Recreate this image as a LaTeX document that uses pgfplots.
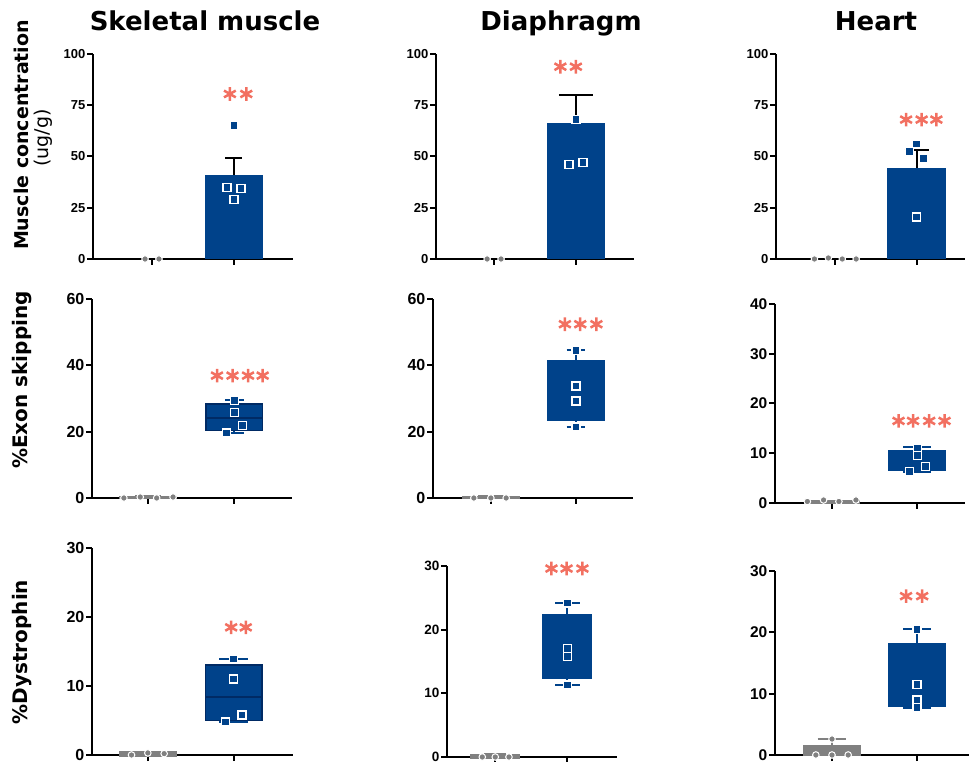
\documentclass[border=0pt]{standalone}
\usepackage{fontspec}
\setmainfont{DejaVu Sans}
\newfontfamily\tickfont{Liberation Sans}
\usepackage{pgfplots}
\pgfplotsset{compat=1.18}
\usepgfplotslibrary{statistics}
\definecolor{mblue}{RGB}{0,66,138}
\definecolor{dblue}{RGB}{0,42,100}
\definecolor{starc}{RGB}{242,112,97}
\definecolor{mgrey}{RGB}{128,128,128}
\newcommand\tf[1]{\tickfont\bfseries\fontsize{#1}{#1}\selectfont}
\pgfplotsset{
 panel/.style={scale only axis, clip=false, anchor=south west,
   axis x line*=bottom, axis y line*=left,
   axis line style={-, line width=2pt, black}, ymin=0,
   xtick={0,1}, xticklabels={,,}, tick align=outside, major tick length=6pt,
   tick style={line width=2pt, black},
   boxplot/draw direction=y,
   /pgf/number format/assume math mode=true,
   yticklabel style={inner sep=1.5pt}},
 bluepts/.style={only marks, mark=square*, mark size=4pt, mark options={fill=mblue, draw=white, line width=1.4pt}},
 greypts/.style={only marks, mark=*, mark size=3.3pt, mark options={fill=mgrey, draw=white, line width=1pt}},
 stars/.style={only marks, mark=asterisk, mark size=6.8pt, mark options={draw=starc, line width=2.5pt}},
 errb/.style={draw=none, mark=none, error bars/.cd, y dir=plus, y explicit,
   error mark=|,
   error bar style={draw=black, line width=2pt},
   error mark options={draw=black, line width=2pt, mark size=#1}},
 greybox/.style={boxplot prepared={lower whisker=0, lower quartile=0, median=0.15, upper quartile=0.3, upper whisker=0.4,
  draw position=0, box extend=#1, whisker extend=0.3,
  every box/.style={fill=mgrey, draw=mgrey, line width=3pt},
  every median/.style={draw=mgrey, line width=3pt},
  every whisker/.style={draw=mgrey, line width=3pt}}},
}
\begin{document}
\begin{tikzpicture}
\useasboundingbox (0pt,0pt) rectangle (969pt,761pt);
% titles
\node[anchor=base, font=\bfseries\fontsize{26}{26}\selectfont] at (205pt,730pt) {Skeletal muscle};
\node[anchor=base, font=\bfseries\fontsize{26}{26}\selectfont] at (561pt,730pt) {Diaphragm};
\node[anchor=base, font=\bfseries\fontsize{26}{26}\selectfont] at (876pt,730pt) {Heart};
% y labels
\node[rotate=90, font=\bfseries\fontsize{19}{19}\selectfont] at (21pt,626pt) {Muscle concentration};
\node[rotate=90, font=\fontsize{19}{19}\selectfont] at (43pt,623pt) {(ug/g)};
\node[rotate=90, font=\bfseries\fontsize{20}{20}\selectfont] at (22pt,381pt) {\%Exon skipping};
\node[rotate=90, font=\bfseries\fontsize{20}{20}\selectfont] at (22pt,109pt) {\%Dystrophin};

% ---------- Row 1 ----------
\begin{axis}[panel, at={(93pt,502pt)}, width=200pt, height=205pt, xmin=-0.72, xmax=1.72, ymax=100,
  ytick={0,25,50,75,100}, yticklabel style={font=\tf{13}}]
\addplot[ybar, bar width=58pt, bar shift=0pt, fill=mblue, draw=none] coordinates {(1,41)};
\addplot[errb=8.5pt] coordinates {(1,41) +- (0,8.2)};
\addplot[greypts] coordinates {(-0.085,0) (0.085,0)};
\addplot[bluepts] coordinates {(1,65) (0.915,35) (1.085,34.5) (1,29)};
\addplot[stars] coordinates {(0.95,80.5) (1.15,80.5)};
\end{axis}

\begin{axis}[panel, at={(436pt,502pt)}, width=198pt, height=205pt, xmin=-0.71, xmax=1.71, ymax=100,
  ytick={0,25,50,75,100}, yticklabel style={font=\tf{13}}]
\addplot[ybar, bar width=58pt, bar shift=0pt, fill=mblue, draw=none] coordinates {(1,66.5)};
\addplot[errb=17pt] coordinates {(1,66.5) +- (0,13.5)};
\addplot[greypts] coordinates {(-0.085,0) (0.085,0)};
\addplot[bluepts] coordinates {(1,68) (0.915,46) (1.085,47)};
\addplot[stars] coordinates {(0.81,93.8) (1.0,93.8)};
\end{axis}

\begin{axis}[panel, at={(776pt,502pt)}, width=189pt, height=205pt, xmin=-0.72, xmax=1.59, ymax=100,
  ytick={0,25,50,75,100}, yticklabel style={font=\tf{13}}]
\addplot[ybar, bar width=59pt, bar shift=0pt, fill=mblue, draw=none] coordinates {(1,44.5)};
\addplot[errb=12pt] coordinates {(1,44.5) +- (0,8.5)};
\addplot[greypts] coordinates {(-0.25,0) (-0.08,0.5) (0.09,0) (0.26,0)};
\addplot[bluepts] coordinates {(1,56) (0.915,52.5) (1.085,49) (1,20.5)};
\addplot[stars] coordinates {(0.87,68) (1.06,68) (1.24,68)};
\end{axis}

% ---------- Row 2 ----------
\begin{axis}[panel, at={(92pt,263pt)}, width=200pt, height=199pt, xmin=-0.65, xmax=1.67, ymax=60,
  ytick={0,20,40,60}, yticklabel style={font=\tf{16}}]
\addplot[greybox=0.63] coordinates {};
\addplot[boxplot prepared={lower whisker=19.6, lower quartile=20.3, median=24.1, upper quartile=28.4, upper whisker=29.4,
  draw position=1, box extend=0.66, whisker extend=0.22,
  every box/.style={fill=mblue, draw=dblue, line width=1.5pt},
  every median/.style={draw=dblue, line width=2pt},
  every whisker/.style={draw=mblue, line width=2pt}}] coordinates {};
\addplot[greypts] coordinates {(-0.28,0) (-0.09,0.3) (0.1,0) (0.29,0.3)};
\addplot[bluepts] coordinates {(1,29.4) (1,25.8) (1.093,21.8) (0.907,19.6)};
\addplot[stars] coordinates {(0.8,36.9) (0.98,36.9) (1.16,36.9) (1.33,36.9)};
\end{axis}

\begin{axis}[panel, at={(433pt,263pt)}, width=200pt, height=199pt, xmin=-0.68, xmax=1.67, ymax=60,
  ytick={0,20,40,60}, yticklabel style={font=\tf{16}}]
\addplot[greybox=0.65] coordinates {};
\addplot[boxplot prepared={lower whisker=21.4, lower quartile=23.3, median=32, upper quartile=41.6, upper whisker=44.5,
  draw position=1, box extend=0.68, whisker extend=0.22,
  every box/.style={fill=mblue, draw=mblue, line width=1pt},
  every median/.style={draw=mblue, line width=1pt},
  every whisker/.style={draw=mblue, line width=2pt}}] coordinates {};
\addplot[greypts] coordinates {(-0.2,0) (0,0) (0.18,0)};
\addplot[bluepts] coordinates {(1,44.5) (1,33.8) (1,29.3) (1,21.4)};
\addplot[stars] coordinates {(0.87,52.4) (1.05,52.4) (1.24,52.4)};
\end{axis}

\begin{axis}[panel, at={(775pt,258pt)}, width=190pt, height=199pt, xmin=-0.67, xmax=1.56, ymax=40,
  ytick={0,10,20,30,40}, yticklabel style={font=\tf{15.5}}]
\addplot[greybox=0.63] coordinates {};
\addplot[boxplot prepared={lower whisker=6.3, lower quartile=6.6, median=8.5, upper quartile=10.6, upper whisker=11.2,
  draw position=1, box extend=0.67, whisker extend=0.33,
  every box/.style={fill=mblue, draw=mblue, line width=1pt},
  every median/.style={draw=mblue, line width=1pt},
  every whisker/.style={draw=mblue, line width=2pt}}] coordinates {};
\addplot[greypts] coordinates {(-0.29,0.3) (-0.1,0.6) (0.08,0.3) (0.28,0.6)};
\addplot[bluepts] coordinates {(1,11.0) (1,9.5) (1.098,7.35) (0.906,6.3)};
\addplot[stars] coordinates {(0.78,16.5) (0.95,16.5) (1.14,16.5) (1.32,16.5)};
\end{axis}

% ---------- Row 3 ----------
\begin{axis}[panel, at={(92pt,6pt)}, width=201pt, height=207pt, xmin=-0.65, xmax=1.69, ymax=30,
  ytick={0,10,20,30}, yticklabel style={font=\tf{16}}]
\addplot[greybox=0.64] coordinates {};
\addplot[boxplot prepared={lower whisker=4.8, lower quartile=5.0, median=8.37, upper quartile=13.06, upper whisker=13.9,
  draw position=1, box extend=0.66, whisker extend=0.34,
  every box/.style={fill=mblue, draw=dblue, line width=1.5pt},
  every median/.style={draw=dblue, line width=2pt},
  every whisker/.style={draw=mblue, line width=2pt}}] coordinates {};
\addplot[greypts] coordinates {(-0.19,0) (0,0.3) (0.19,0.2)};
\addplot[bluepts] coordinates {(1,13.9) (1,11.0) (1.095,5.8) (0.905,4.8)};
\addplot[stars] coordinates {(0.97,18.5) (1.14,18.5)};
\end{axis}

\begin{axis}[panel, at={(447pt,4pt)}, width=170pt, height=191pt, xmin=-0.67, xmax=1.69, ymax=30,
  ytick={0,10,20,30}, yticklabel style={font=\tf{13.5}}]
\addplot[greybox=0.65] coordinates {};
\addplot[boxplot prepared={lower whisker=11.3, lower quartile=12.4, median=16.4, upper quartile=22.4, upper whisker=24.2,
  draw position=1, box extend=0.68, whisker extend=0.34,
  every box/.style={fill=mblue, draw=mblue, line width=1pt},
  every median/.style={draw=mblue, line width=1pt},
  every whisker/.style={draw=mblue, line width=2pt}}] coordinates {};
\addplot[greypts] coordinates {(-0.18,0) (0,0) (0.19,0)};
\addplot[bluepts] coordinates {(1,24.2) (1,17) (1,15.8) (1,11.3)};
\addplot[stars] coordinates {(0.78,29.6) (0.99,29.6) (1.21,29.6)};
\end{axis}

\begin{axis}[panel, at={(775pt,6pt)}, width=194pt, height=184pt, xmin=-0.67, xmax=1.61, ymax=30,
  ytick={0,10,20,30}, yticklabel style={font=\tf{15.5}}]
\addplot[boxplot prepared={lower whisker=0, lower quartile=0, median=0.8, upper quartile=1.63, upper whisker=2.6,
  draw position=0, box extend=0.67, whisker extend=0.34,
  every box/.style={fill=mgrey, draw=mgrey, line width=1pt},
  every median/.style={draw=mgrey, line width=1pt},
  every whisker/.style={draw=mgrey, line width=2pt}}] coordinates {};
\addplot[boxplot prepared={lower whisker=7.7, lower quartile=7.86, median=10.2, upper quartile=18.2, upper whisker=20.5,
  draw position=1, box extend=0.67, whisker extend=0.33,
  every box/.style={fill=mblue, draw=mblue, line width=1pt},
  every median/.style={draw=mblue, line width=1pt},
  every whisker/.style={draw=mblue, line width=2pt}}] coordinates {};
\addplot[greypts] coordinates {(0,2.6) (-0.19,0) (0,0) (0.19,0)};
\addplot[bluepts] coordinates {(1,20.5) (1,11.5) (1,8.95) (1,7.7)};
\addplot[stars] coordinates {(0.87,25.9) (1.06,25.9)};
\end{axis}
\end{tikzpicture}
\end{document}
